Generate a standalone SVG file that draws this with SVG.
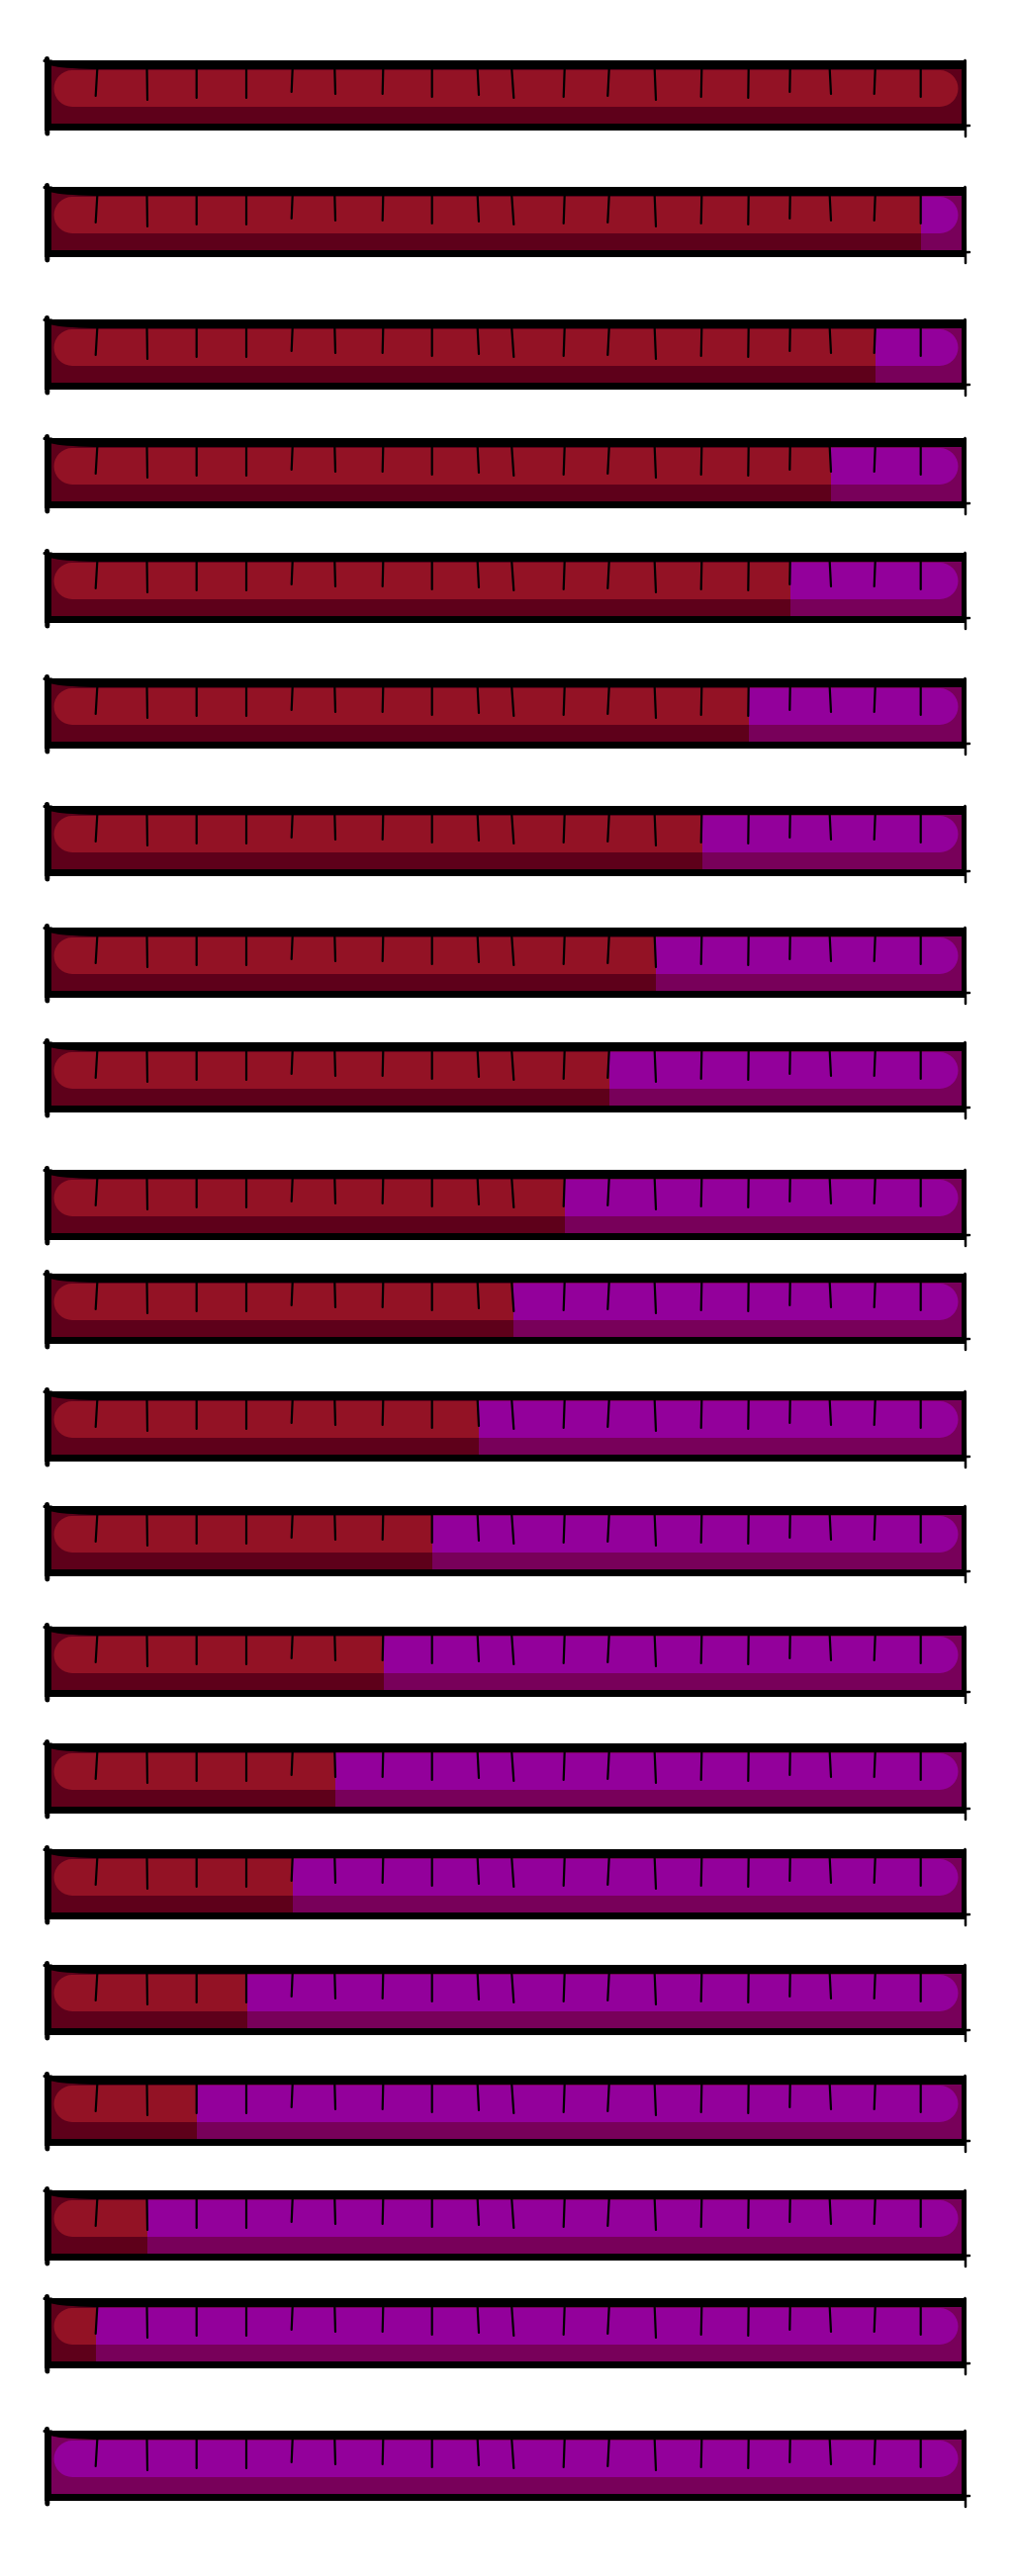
<svg xmlns="http://www.w3.org/2000/svg" xmlns:xlink="http://www.w3.org/1999/xlink" width="1026" height="2605" viewBox="0 0 1026 2605">
<style>
.frame{fill:#000}
.in-red{fill:#5e001a}
.pill-red{fill:#931225}
.in-pur{fill:#78005a}
.pill-pur{fill:#93009b}
.tick{stroke:#000;stroke-width:2.2;stroke-linecap:round;fill:none}
.edge{stroke:#000;fill:none;stroke-linecap:round}
</style>
<defs>
<g id="base">
<rect class="frame" x="45" y="0" width="932" height="71"/>
<path class="edge" stroke-width="5" d="M47.5,-1.5 L47.8,74"/>
<path class="edge" stroke-width="3" d="M45,0.5 L52,1"/>
<path class="edge" stroke-width="2.5" d="M975.5,0 L976,77"/>
<path class="edge" stroke-width="2.5" d="M962,66.5 L980,66"/>
<rect class="in-red" x="52" y="9" width="920" height="55"/>
<path class="in-red" d="M52,5.5 Q62,8 95,9 L52,9 Z"/>
<path class="pill-red" d="M73,10 H950 A18.5,18.5 0 0 1 950,47 H73 A18.5,18.5 0 0 1 73,10 Z"/>
</g>
<g id="ticks">
<path class="tick" d="M98.3,9 L96.7,36 M148.5,9 L149,40 M198.7,9 L198.7,38 M249,9 L249,38 M295.7,9 L294.7,32 M338.3,9 L339,34 M387.3,9 L386.7,34 M436.7,9 L436.7,37 M482.7,9 L484,35 M517.3,9 L519.3,38 M570.7,9 L569.7,37 M615.7,9 L614.3,36 M661.7,9 L663,40 M709.3,9 L708.7,37 M756.7,9 L756.3,38 M798.7,9 L798.3,32 M838.7,9 L840,34 M884.7,9 L883.7,34 M930.7,9 L930.7,37"/>
</g>
</defs>
<rect x="0" y="0" width="1026" height="2605" fill="#fff"/>

<g id="bar-01" transform="translate(0,61)"><use xlink:href="#base"/><use xlink:href="#ticks"/></g>

<g id="bar-02" transform="translate(0,189)"><use xlink:href="#base"/>
<rect class="in-pur" x="931" y="9" width="41" height="55"/><path class="pill-pur" d="M931,10 H950 A18.5,18.5 0 0 1 950,47 H931 Z"/><use xlink:href="#ticks"/></g>

<g id="bar-03" transform="translate(0,323)"><use xlink:href="#base"/>
<rect class="in-pur" x="885" y="9" width="87" height="55"/><path class="pill-pur" d="M885,10 H950 A18.5,18.5 0 0 1 950,47 H885 Z"/><use xlink:href="#ticks"/></g>

<g id="bar-04" transform="translate(0,443)"><use xlink:href="#base"/>
<rect class="in-pur" x="840" y="9" width="132" height="55"/><path class="pill-pur" d="M840,10 H950 A18.5,18.5 0 0 1 950,47 H840 Z"/><use xlink:href="#ticks"/></g>

<g id="bar-05" transform="translate(0,559)"><use xlink:href="#base"/>
<rect class="in-pur" x="799" y="9" width="173" height="55"/><path class="pill-pur" d="M799,10 H950 A18.5,18.5 0 0 1 950,47 H799 Z"/><use xlink:href="#ticks"/></g>

<g id="bar-06" transform="translate(0,686)"><use xlink:href="#base"/>
<rect class="in-pur" x="757" y="9" width="215" height="55"/><path class="pill-pur" d="M757,10 H950 A18.5,18.5 0 0 1 950,47 H757 Z"/><use xlink:href="#ticks"/></g>

<g id="bar-07" transform="translate(0,815)"><use xlink:href="#base"/>
<rect class="in-pur" x="710" y="9" width="262" height="55"/><path class="pill-pur" d="M710,10 H950 A18.5,18.5 0 0 1 950,47 H710 Z"/><use xlink:href="#ticks"/></g>

<g id="bar-08" transform="translate(0,938)"><use xlink:href="#base"/>
<rect class="in-pur" x="663" y="9" width="309" height="55"/><path class="pill-pur" d="M663,10 H950 A18.5,18.5 0 0 1 950,47 H663 Z"/><use xlink:href="#ticks"/></g>

<g id="bar-09" transform="translate(0,1054)"><use xlink:href="#base"/>
<rect class="in-pur" x="616" y="9" width="356" height="55"/><path class="pill-pur" d="M616,10 H950 A18.5,18.5 0 0 1 950,47 H616 Z"/><use xlink:href="#ticks"/></g>

<g id="bar-10" transform="translate(0,1183)"><use xlink:href="#base"/>
<rect class="in-pur" x="571" y="9" width="401" height="55"/><path class="pill-pur" d="M571,10 H950 A18.5,18.5 0 0 1 950,47 H571 Z"/><use xlink:href="#ticks"/></g>

<g id="bar-11" transform="translate(0,1288)"><use xlink:href="#base"/>
<rect class="in-pur" x="519" y="9" width="453" height="55"/><path class="pill-pur" d="M519,10 H950 A18.5,18.5 0 0 1 950,47 H519 Z"/><use xlink:href="#ticks"/></g>

<g id="bar-12" transform="translate(0,1407)"><use xlink:href="#base"/>
<rect class="in-pur" x="484" y="9" width="488" height="55"/><path class="pill-pur" d="M484,10 H950 A18.5,18.5 0 0 1 950,47 H484 Z"/><use xlink:href="#ticks"/></g>

<g id="bar-13" transform="translate(0,1523)"><use xlink:href="#base"/>
<rect class="in-pur" x="437" y="9" width="535" height="55"/><path class="pill-pur" d="M437,10 H950 A18.5,18.5 0 0 1 950,47 H437 Z"/><use xlink:href="#ticks"/></g>

<g id="bar-14" transform="translate(0,1645)"><use xlink:href="#base"/>
<rect class="in-pur" x="388" y="9" width="584" height="55"/><path class="pill-pur" d="M388,10 H950 A18.5,18.5 0 0 1 950,47 H388 Z"/><use xlink:href="#ticks"/></g>

<g id="bar-15" transform="translate(0,1763)"><use xlink:href="#base"/>
<rect class="in-pur" x="339" y="9" width="633" height="55"/><path class="pill-pur" d="M339,10 H950 A18.5,18.5 0 0 1 950,47 H339 Z"/><use xlink:href="#ticks"/></g>

<g id="bar-16" transform="translate(0,1870)"><use xlink:href="#base"/>
<rect class="in-pur" x="296" y="9" width="676" height="55"/><path class="pill-pur" d="M296,10 H950 A18.5,18.5 0 0 1 950,47 H296 Z"/><use xlink:href="#ticks"/></g>

<g id="bar-17" transform="translate(0,1987)"><use xlink:href="#base"/>
<rect class="in-pur" x="250" y="9" width="722" height="55"/><path class="pill-pur" d="M250,10 H950 A18.5,18.5 0 0 1 950,47 H250 Z"/><use xlink:href="#ticks"/></g>

<g id="bar-18" transform="translate(0,2099)"><use xlink:href="#base"/>
<rect class="in-pur" x="199" y="9" width="773" height="55"/><path class="pill-pur" d="M199,10 H950 A18.5,18.5 0 0 1 950,47 H199 Z"/><use xlink:href="#ticks"/></g>

<g id="bar-19" transform="translate(0,2215)"><use xlink:href="#base"/>
<rect class="in-pur" x="149" y="9" width="823" height="55"/><path class="pill-pur" d="M149,10 H950 A18.5,18.5 0 0 1 950,47 H149 Z"/><use xlink:href="#ticks"/></g>

<g id="bar-20" transform="translate(0,2324)"><use xlink:href="#base"/>
<rect class="in-pur" x="97" y="9" width="875" height="55"/><path class="pill-pur" d="M97,10 H950 A18.5,18.5 0 0 1 950,47 H97 Z"/><use xlink:href="#ticks"/></g>

<g id="bar-21" transform="translate(0,2458)"><use xlink:href="#base"/>
<rect class="in-pur" x="52" y="9" width="920" height="55"/><path class="in-pur" d="M52,5.5 Q62,8 95,9 L52,9 Z"/><path class="pill-pur" d="M73,10 H950 A18.5,18.5 0 0 1 950,47 H73 A18.5,18.5 0 0 1 73,10 Z"/><use xlink:href="#ticks"/></g>
</svg>
